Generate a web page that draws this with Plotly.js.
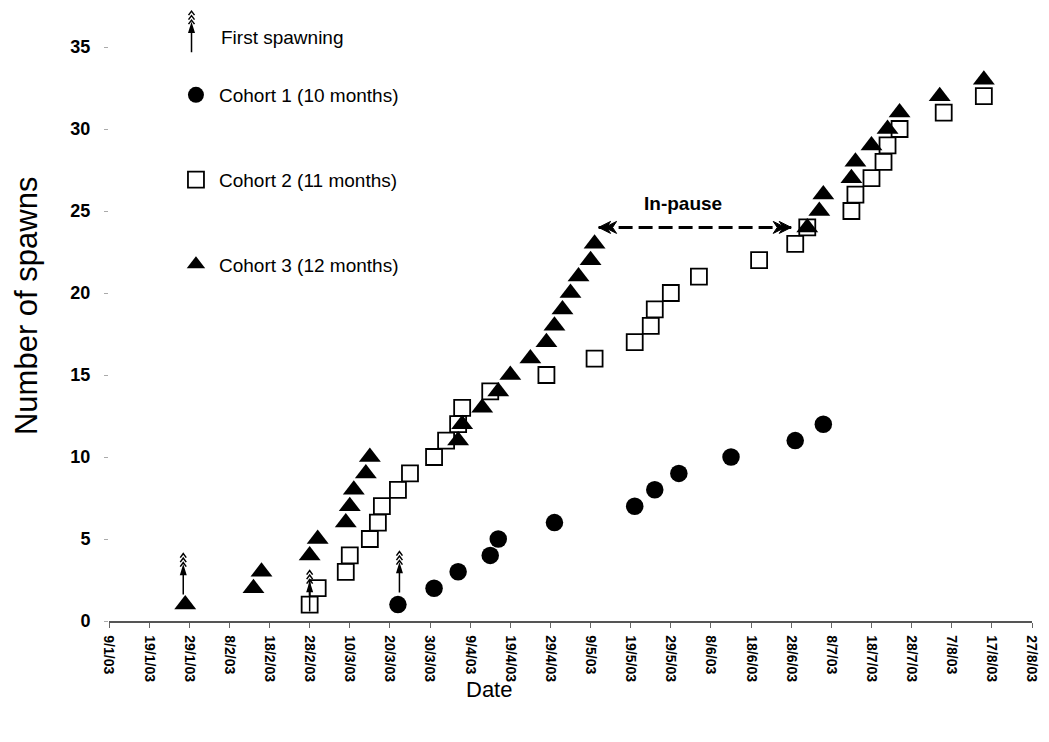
<!DOCTYPE html>
<html>
<head>
<meta charset="utf-8">
<script src="https://cdn.plot.ly/plotly-3.0.1.min.js"></script>
<style>
  html, body { margin: 0; padding: 0; background: #fff; }
  #chart { width: 1049px; height: 742px; }
</style>
</head>
<body>
<div id="chart"></div>
<script>
// Cumulative spawning counts of three broodstock cohorts, 2003
const cohort1Dates = ['2003-03-22','2003-03-31','2003-04-06','2003-04-14','2003-04-16','2003-04-30',
  '2003-05-20','2003-05-25','2003-05-31','2003-06-13','2003-06-29','2003-07-06'];
const cohort1Spawns = [1,2,3,4,5,6,7,8,9,10,11,12];

const cohort2Dates = ['2003-02-28','2003-03-02','2003-03-09','2003-03-10','2003-03-15','2003-03-17',
  '2003-03-18','2003-03-22','2003-03-25','2003-03-31','2003-04-03','2003-04-06','2003-04-07',
  '2003-04-14','2003-04-28','2003-05-10','2003-05-20','2003-05-24','2003-05-25','2003-05-29',
  '2003-06-05','2003-06-20','2003-06-29','2003-07-02','2003-07-13','2003-07-14','2003-07-18',
  '2003-07-21','2003-07-22','2003-07-25','2003-08-05','2003-08-15'];
const cohort2Spawns = [1,2,3,4,5,6,7,8,9,10,11,12,13,14,15,16,17,18,19,20,21,22,23,24,25,26,27,28,29,30,31,32];

const cohort3Dates = ['2003-01-28','2003-02-14','2003-02-16','2003-02-28','2003-03-02','2003-03-09',
  '2003-03-10','2003-03-11','2003-03-14','2003-03-15','2003-04-06','2003-04-07','2003-04-12',
  '2003-04-16','2003-04-19','2003-04-24','2003-04-28','2003-04-30','2003-05-02','2003-05-04',
  '2003-05-06','2003-05-09','2003-05-10','2003-07-02','2003-07-05','2003-07-06','2003-07-13',
  '2003-07-14','2003-07-18','2003-07-22','2003-07-25','2003-08-04','2003-08-15'];
const cohort3Spawns = [1,2,3,4,5,6,7,8,9,10,11,12,13,14,15,16,17,18,19,20,21,22,23,24,25,26,27,28,29,30,31,32,33];

const cohortNames = ['Cohort 1 (10 months)', 'Cohort 2 (11 months)', 'Cohort 3 (12 months)'];

const xTickVals = ['2003-01-09','2003-01-19','2003-01-29','2003-02-08','2003-02-18','2003-02-28',
  '2003-03-10','2003-03-20','2003-03-30','2003-04-09','2003-04-19','2003-04-29','2003-05-09',
  '2003-05-19','2003-05-29','2003-06-08','2003-06-18','2003-06-28','2003-07-08','2003-07-18',
  '2003-07-28','2003-08-07','2003-08-17','2003-08-27'];
const xTickText = ['9/1/03','19/1/03','29/1/03','8/2/03','18/2/03','28/2/03','10/3/03','20/3/03',
  '30/3/03','9/4/03','19/4/03','29/4/03','9/5/03','19/5/03','29/5/03','8/6/03','18/6/03',
  '28/6/03','8/7/03','18/7/03','28/7/03','7/8/03','17/8/03','27/8/03'];
const yTickVals = [0,5,10,15,20,25,30,35];

// Pause in spawning of cohort 3
const pauseStart = '2003-05-11';
const pauseEnd = '2003-06-28';
const pauseLevel = 24;
const pauseLabel = 'In-pause';
const firstSpawnLabel = 'First spawning';
const xTitle = 'Date';
const yTitle = 'Number of spawns';

const FONT = 'Liberation Sans, Arial, Helvetica, sans-serif';

const traces = [
  { x: cohort1Dates, y: cohort1Spawns, name: cohortNames[0], legendgroup: 'c1',
    type: 'scatter', mode: 'markers',
    marker: { symbol: 'circle', size: 17.5, color: '#000' } },
  { x: cohort2Dates, y: cohort2Spawns, name: cohortNames[1], legendgroup: 'c2',
    type: 'scatter', mode: 'markers',
    marker: { symbol: 'square', size: 16, color: '#fff', line: { color: '#000', width: 1.8 } } },
  { x: cohort3Dates, y: cohort3Spawns, name: cohortNames[2], legendgroup: 'c3',
    type: 'scatter', mode: 'markers',
    marker: { symbol: 'triangle-up', size: 19, color: '#000' } }
];

// "First spawning" glyph: upward arrow topped by three chevrons (pixel units, y up)
function spawnGlyph(ref, xa, ya, dx, dy) {
  const common = { xref: ref.x, yref: ref.y, xsizemode: 'pixel', ysizemode: 'pixel',
    xanchor: xa, yanchor: ya, layer: 'above' };
  const stem = `M${dx},${dy} L${dx},${dy + 27} M${dx - 2.5},${dy + 20} L${dx},${dy + 28} L${dx + 2.5},${dy + 20} Z`;
  let chev = '';
  for (let k = 0; k < 3; k++) {
    const b = dy + 28 + k * 4.5;
    chev += `M${dx - 3},${b} L${dx},${b + 4} L${dx + 3},${b} `;
  }
  return [
    Object.assign({ type: 'path', path: stem, line: { color: '#000', width: 1.5 }, fillcolor: '#000' }, common),
    Object.assign({ type: 'path', path: chev, line: { color: '#000', width: 1.5 } }, common)
  ];
}

// Double-chevron arrowhead pointing in direction dir (+1 right, -1 left)
function pauseHead(x, y, dir) {
  let p = '';
  for (let k = 0; k < 2; k++) {
    const o = -dir * k * 6;
    p += `M${o},0 L${o - dir * 12},6 L${o - dir * 8},0 L${o - dir * 12},-6 Z `;
  }
  return { type: 'path', xref: 'x', yref: 'y', xsizemode: 'pixel', ysizemode: 'pixel',
    xanchor: x, yanchor: y, path: p, fillcolor: '#000', line: { color: '#000', width: 1 }, layer: 'above' };
}

const shapes = [].concat(
  spawnGlyph({ x: 'x', y: 'y' }, cohort3Dates[0], cohort3Spawns[0], -2, 10),
  spawnGlyph({ x: 'x', y: 'y' }, cohort2Dates[0], cohort2Spawns[0], 0, -7),
  spawnGlyph({ x: 'x', y: 'y' }, cohort1Dates[0], cohort1Spawns[0], 1.5, 12),
  spawnGlyph({ x: 'paper', y: 'paper' }, 0.0894, 0.991, 0, 0),
  [
    { type: 'line', xref: 'x', yref: 'y', x0: pauseStart, x1: pauseEnd, y0: pauseLevel, y1: pauseLevel,
      line: { color: '#000', width: 3, dash: '14px,6px' }, layer: 'above' },
    pauseHead(pauseStart, pauseLevel, -1),
    pauseHead(pauseEnd, pauseLevel, 1)
  ]
);

const annotations = [
  { xref: 'paper', yref: 'paper', x: 0.119, y: 1.017, xanchor: 'left', yanchor: 'middle',
    text: firstSpawnLabel, showarrow: false, font: { family: FONT, size: 19, color: '#000' } },
  { xref: 'x', yref: 'y', x: '2003-06-01', y: pauseLevel, yshift: 24, xanchor: 'center', yanchor: 'middle',
    text: '<b>' + pauseLabel + '</b>', showarrow: false, font: { family: FONT, size: 19, color: '#000' } },
  // axis titles, set slightly off the axis centres
  { xref: 'paper', yref: 'paper', x: 0.4117, y: -0.1202, xanchor: 'center', yanchor: 'middle',
    text: xTitle, showarrow: false, font: { family: FONT, size: 22, color: '#000' } },
  { xref: 'paper', yref: 'paper', x: -0.0888, y: 0.5488, xanchor: 'center', yanchor: 'middle',
    textangle: -90, text: yTitle, showarrow: false, font: { family: FONT, size: 31, color: '#000' } }
];

const layout = {
  width: 1049, height: 742,
  paper_bgcolor: '#fff', plot_bgcolor: '#fff',
  margin: { l: 109, r: 17, t: 47, b: 121 },
  font: { family: FONT, color: '#000' },
  showlegend: true,
  legend: {
    x: 0.0693, y: 0.9495, xanchor: 'left', yanchor: 'top',
    traceorder: 'grouped', tracegroupgap: 57, itemwidth: 36,
    bgcolor: 'rgba(0,0,0,0)', borderwidth: 0,
    font: { family: FONT, size: 19, color: '#000' }
  },
  xaxis: {
    type: 'date', range: ['2003-01-09', '2003-08-27'],
    tickmode: 'array', tickvals: xTickVals, ticktext: xTickText,
    tickangle: 90, tickfont: { family: FONT, size: 14, color: '#000', weight: 'bold' },
    ticks: 'outside', ticklen: 5, tickcolor: '#666', tickwidth: 1,
    ticklabelstandoff: 5,
    showline: true, linecolor: '#555', linewidth: 1.5,
    showgrid: false, zeroline: false
  },
  yaxis: {
    range: [0, 35], tickmode: 'array', tickvals: yTickVals,
    tickfont: { family: FONT, size: 18, color: '#000', weight: 'bold' },
    ticks: 'outside', ticklen: 4, tickcolor: '#aaa', tickwidth: 1,
    ticklabelstandoff: 10,
    showline: false, showgrid: false, zeroline: false
  },
  shapes: shapes,
  annotations: annotations
};

Plotly.newPlot('chart', traces, layout, { displayModeBar: false, staticPlot: true });
</script>
</body>
</html>
